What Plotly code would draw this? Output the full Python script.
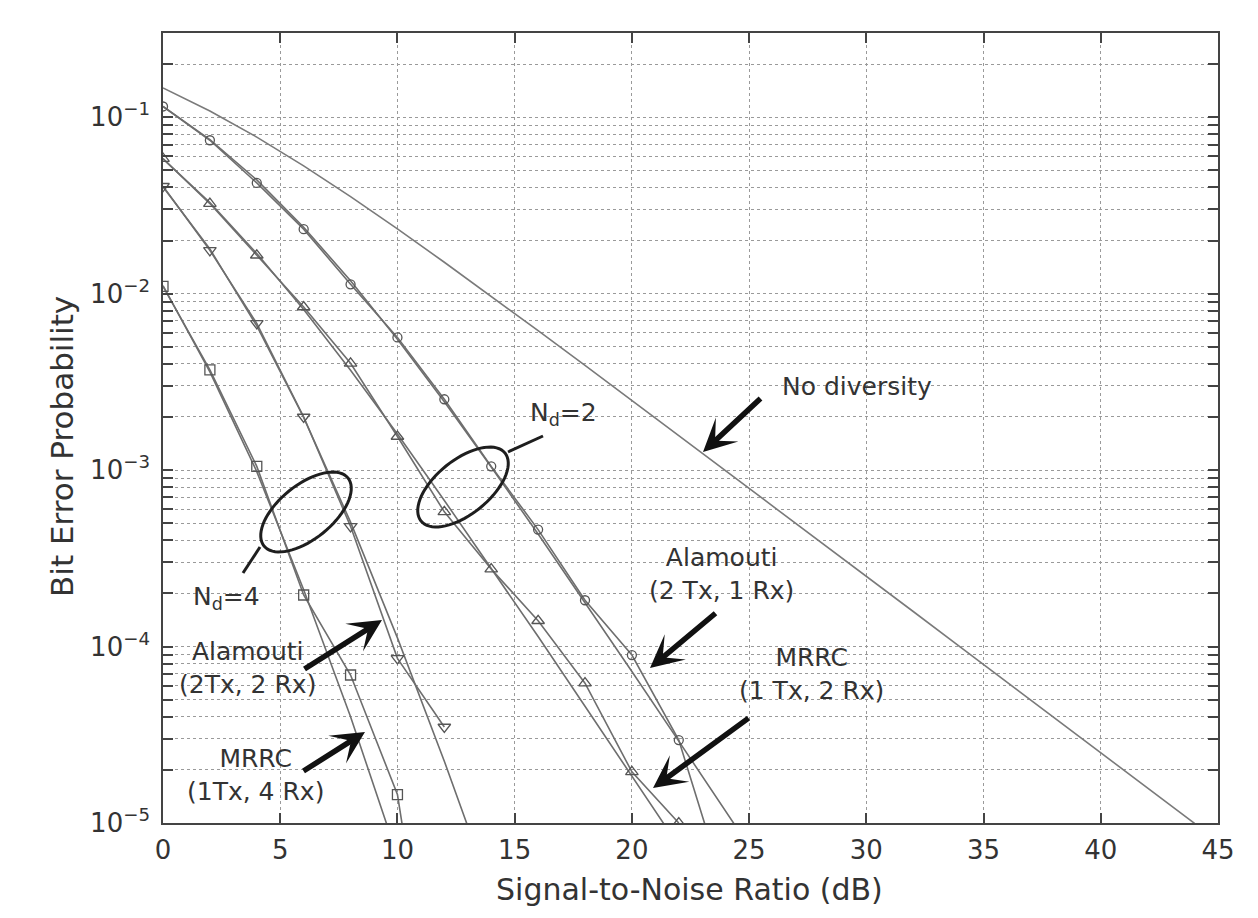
import math
import plotly.graph_objects as go

# ---------------- data ----------------
no_div_snr = [0, 2, 4, 6, 8, 10, 12, 14, 16, 18, 20, 22, 24, 26, 28, 30, 32, 34, 36, 38, 40, 42, 44]
no_div_ber = [0.1464, 0.1085, 0.0771, 0.0530, 0.0355, 0.0233, 0.01506, 0.00967, 0.00617, 0.00392,
              0.00248, 0.00157, 0.000994, 0.000628, 0.000396, 0.00025, 0.000158, 9.95e-5, 6.28e-5,
              3.96e-5, 2.5e-5, 1.58e-5, 9.95e-6]

ala21_snr = [0, 2, 4, 6, 8, 10, 12, 14, 16, 18, 20, 22, 24]
ala21_ber = [0.115, 0.074, 0.0424, 0.0232, 0.0113, 0.00565, 0.00252, 0.00105, 4.6e-4, 1.83e-4,
             8.95e-5, 2.95e-5, 4.1e-6]
ala21_line_snr = [0, 2, 4, 6, 8, 10, 12, 14, 16, 18, 20, 22, 24, 26]
ala21_line_ber = [0.1151, 0.0746, 0.0441, 0.0238, 0.01183, 0.00551, 0.00244, 0.00104, 4.34e-4,
                  1.78e-4, 7.22e-5, 2.91e-5, 1.17e-5, 4.67e-6]

mrrc12_snr = [0, 2, 4, 6, 8, 10, 12, 14, 16, 18, 20, 22]
mrrc12_ber = [0.0583, 0.0324, 0.0165, 0.0084, 0.00403, 0.00155, 5.8e-4, 2.75e-4, 1.4e-4, 6.2e-5,
              1.95e-5, 1.0e-5]
mrrc12_line_snr = [0, 2, 4, 6, 8, 10, 12, 14, 16, 18, 20, 22]
mrrc12_line_ber = [0.0581, 0.0328, 0.0169, 0.00813, 0.00368, 0.0016, 6.73e-4, 2.79e-4, 1.14e-4,
                   4.59e-5, 1.84e-5, 7.4e-6]

ala22_snr = [0, 2, 4, 6, 8, 10, 12]
ala22_ber = [0.0406, 0.0176, 0.00678, 0.0020, 4.8e-4, 8.57e-5, 3.5e-5]
ala22_line_snr = [0, 2, 4, 6, 8, 10, 12, 14]
ala22_line_ber = [0.0403, 0.0179, 0.00656, 0.00199, 5.07e-4, 1.12e-4, 2.24e-5, 4.1e-6]

mrrc14_snr = [0, 2, 4, 6, 8, 10, 12]
mrrc14_ber = [0.011, 0.0037, 0.00105, 1.96e-4, 6.9e-5, 1.45e-5, 3e-7]
mrrc14_line_snr = [0, 2, 4, 6, 8, 10]
mrrc14_line_ber = [0.0111, 0.0036, 0.00098, 2.1e-4, 4.0e-5, 6.5e-6]

x_ticks = [0, 5, 10, 15, 20, 25, 30, 35, 40, 45]
y_decades = [-5, -4, -3, -2, -1]
y_decade_labels = ["10<sup>\u22125</sup>", "10<sup>\u22124</sup>", "10<sup>\u22123</sup>",
                   "10<sup>\u22122</sup>", "10<sup>\u22121</sup>"]

# ---------------- layout geometry (screen pixels of the reference) ----------------
PAGE = 8                      # page margin around the figure in the browser
W, H = 1258 - PAGE, 918 - PAGE
L, R, T, B = 163, 1218, 33, 823   # plot area in screen pixels


def px(x):
    return (x - L) / (R - L)


def py(y):
    return (B - y) / (B - T)


y_tickvals, y_ticktext = [], []
for k, lab in zip(y_decades, y_decade_labels):
    for m in range(1, 10):
        v = m * 10.0 ** k
        if v > 0.3 + 1e-12:
            break
        y_tickvals.append(v)
        y_ticktext.append(lab if m == 1 else "")

LINE = "#6e6e6e"
MK = "#555555"
FONT = "DejaVu Sans"
TXT = "#333333"

fig = go.Figure()


def line_trace(x, y, color=LINE, width=1.6):
    fig.add_trace(go.Scatter(x=x, y=y, mode="lines", line=dict(color=color, width=width),
                             showlegend=False, hoverinfo="skip"))


def marker_trace(x, y, symbol, size=8):
    fig.add_trace(go.Scatter(x=x, y=y, mode="lines+markers", line=dict(color=LINE, width=1.6),
                             marker=dict(symbol=symbol, size=size, color=MK,
                                         line=dict(color=MK, width=1.3)),
                             showlegend=False, hoverinfo="skip"))


line_trace(no_div_snr, no_div_ber, color="#7a7a7a", width=1.6)
line_trace(ala21_line_snr, ala21_line_ber)
marker_trace(ala21_snr, ala21_ber, "circle-open", 9)
line_trace(mrrc12_line_snr, mrrc12_line_ber)
marker_trace(mrrc12_snr, mrrc12_ber, "triangle-up-open", 11)
line_trace(ala22_line_snr, ala22_line_ber)
marker_trace(ala22_snr, ala22_ber, "triangle-down-open", 11)
line_trace(mrrc14_line_snr, mrrc14_line_ber)
marker_trace(mrrc14_snr, mrrc14_ber, "square-open", 10)

# ---------------- shapes ----------------
shapes = []


def ellipse_path(cx, cy, a, b, theta_deg, n=72):
    th = math.radians(theta_deg)
    pts = []
    for i in range(n):
        t = 2 * math.pi * i / n
        ex, ey = a * math.cos(t), b * math.sin(t)
        X = cx + ex * math.cos(th) - ey * math.sin(th)
        Y = cy - (ex * math.sin(th) + ey * math.cos(th))
        pts.append((px(X), py(Y)))
    return "M " + " L ".join(f"{p[0]:.5f},{p[1]:.5f}" for p in pts) + " Z"


for cx, cy in [(463, 487), (306, 512)]:
    shapes.append(dict(type="path", xref="paper", yref="paper", path=ellipse_path(cx, cy, 54, 27, 39),
                       line=dict(color="#1e1e1e", width=3)))

for (x0, y0, x1, y1) in [(508, 452, 543, 436), (260, 547, 243, 573)]:
    shapes.append(dict(type="line", xref="paper", yref="paper", x0=px(x0), y0=py(y0), x1=px(x1), y1=py(y1),
                       line=dict(color="#1e1e1e", width=3)))

# ---------------- annotations ----------------
ann = []


def text(x, y, s, size=26):
    ann.append(dict(xref="paper", yref="paper", x=px(x), y=py(y), text=s, showarrow=False,
                    xanchor="center", yanchor="middle", font=dict(family=FONT, size=size, color=TXT)))


def arrow(tail, tip):
    ann.append(dict(xref="paper", yref="paper", x=px(tip[0]), y=py(tip[1]), text="",
                    showarrow=True, ax=tail[0] - tip[0], ay=tail[1] - tip[1],
                    arrowhead=3, arrowsize=1.0, arrowwidth=5.5, arrowcolor="#111111", standoff=0))


text(857, 386, "No diversity", 25)
arrow((762, 397), (703, 452))
text(563, 414, "N<sub>d</sub>=2", 25)
text(226, 598, "N<sub>d</sub>=4", 25)
text(721, 574, "Alamouti<br>(2 Tx, 1 Rx)", 25)
arrow((717, 612), (650, 668))
text(811, 674, "MRRC<br>(1 Tx, 2 Rx)", 25)
arrow((750, 717), (653, 788))
text(247, 668, "Alamouti<br>(2Tx, 2 Rx)", 25)
arrow((303, 670), (382, 620))
text(255, 775, "MRRC<br>(1Tx, 4 Rx)", 25)
arrow((302, 772), (365, 732))

# axis titles
text(689, 889, "Signal-to-Noise Ratio (dB)", 30)
ann.append(dict(xref="paper", yref="paper", x=px(62), y=py(447), text="Bit Error Probability",
                showarrow=False, textangle=-90, xanchor="center", yanchor="middle",
                font=dict(family=FONT, size=31, color=TXT)))

fig.update_layout(
    width=W, height=H, autosize=False,
    margin=dict(l=L - PAGE, r=W + PAGE - R, t=T - PAGE, b=H + PAGE - B, pad=0),
    paper_bgcolor="white", plot_bgcolor="white",
    shapes=shapes, annotations=ann,
    xaxis=dict(range=[0, 45], tickvals=x_ticks, ticks="inside", ticklen=10, tickwidth=1.5,
               tickcolor="#444", showline=True, linecolor="#444", linewidth=1.6, mirror="ticks",
               showgrid=True, gridcolor="#9a9a9a", griddash="dot", gridwidth=1, zeroline=False,
               tickfont=dict(family=FONT, size=26, color=TXT), ticklabelstandoff=3),
    yaxis=dict(type="log", range=[-5, math.log10(0.3)], tickvals=y_tickvals, ticktext=y_ticktext,
               ticks="inside", ticklen=10, tickwidth=1.5, tickcolor="#444", showline=True,
               linecolor="#444", linewidth=1.6, mirror="ticks", showgrid=True, gridcolor="#9a9a9a",
               griddash="dot", gridwidth=1, zeroline=False,
               tickfont=dict(family=FONT, size=26, color=TXT), ticklabelstandoff=6),
)

fig.write_html("out.html")
